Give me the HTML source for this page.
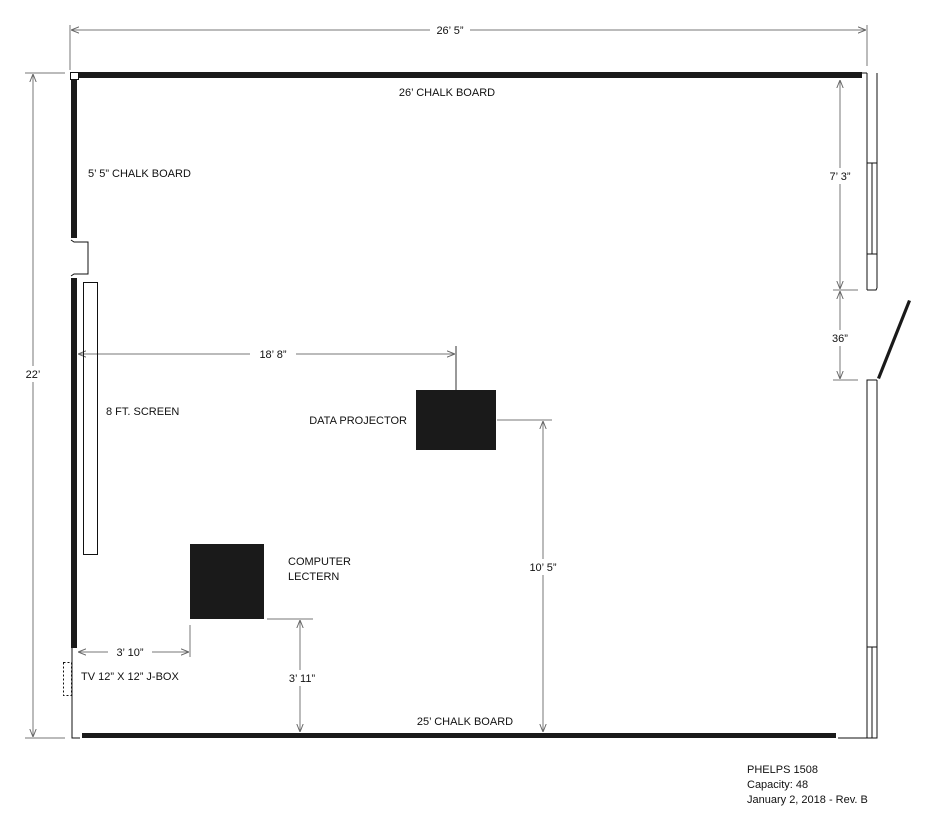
<!DOCTYPE html>
<html><head><meta charset="utf-8"><style>
html,body{margin:0;padding:0;background:#fff;}
svg{display:block;}
text{font-family:"Liberation Sans",sans-serif;font-size:11px;fill:#111;}
</style></head><body>
<svg width="933" height="816" viewBox="0 0 933 816" xmlns="http://www.w3.org/2000/svg">
<defs>
<marker id="a" viewBox="0 0 10 10" refX="10" refY="5" markerWidth="8" markerHeight="8" orient="auto-start-reverse" markerUnits="userSpaceOnUse"><path d="M0,1 L10,5 L0,9" fill="none" stroke="#666" stroke-width="1.2"/></marker>
</defs>
<g stroke="#777" stroke-width="1" fill="none">
<!-- top dim -->
<line x1="70" y1="25" x2="70" y2="70"/><line x1="867" y1="25" x2="867" y2="66"/>
<line x1="71" y1="30" x2="866" y2="30" marker-start="url(#a)" marker-end="url(#a)"/>
<!-- left dim -->
<line x1="25" y1="73" x2="65" y2="73"/><line x1="25" y1="738" x2="65" y2="738"/>
<line x1="33" y1="74" x2="33" y2="737" marker-start="url(#a)" marker-end="url(#a)"/>
<!-- 7'3 and 36 -->
<line x1="833" y1="290" x2="858" y2="290"/><line x1="833" y1="380" x2="858" y2="380"/>
<line x1="840" y1="80" x2="840" y2="289" marker-start="url(#a)" marker-end="url(#a)"/>
<line x1="840" y1="291" x2="840" y2="379" marker-start="url(#a)" marker-end="url(#a)"/>
<!-- 18'8 -->
<line x1="456" y1="346" x2="456" y2="390" stroke="#333"/>
<line x1="78" y1="354" x2="455" y2="354" marker-start="url(#a)" marker-end="url(#a)"/>
<!-- 10'5 -->
<line x1="497" y1="420" x2="552" y2="420"/>
<line x1="543" y1="421" x2="543" y2="732" marker-start="url(#a)" marker-end="url(#a)"/>
<!-- 3'10 -->
<line x1="190" y1="625" x2="190" y2="657"/>
<line x1="78" y1="652" x2="189" y2="652" marker-start="url(#a)" marker-end="url(#a)"/>
<!-- 3'11 -->
<line x1="267" y1="619" x2="313" y2="619"/>
<line x1="300" y1="620" x2="300" y2="732" marker-start="url(#a)" marker-end="url(#a)"/>
</g>
<!-- label backgrounds -->
<g fill="#fff">
<rect x="430" y="22" width="40" height="16"/>
<rect x="22" y="366" width="22" height="16"/>
<rect x="820" y="168" width="40" height="16"/>
<rect x="826" y="330" width="28" height="16"/>
<rect x="250" y="346" width="46" height="16"/>
<rect x="524" y="559" width="40" height="16"/>
<rect x="108" y="644" width="44" height="16"/>
<rect x="284" y="670" width="36" height="16"/>
</g>
<g fill="#1a1a1a">
<rect x="79" y="72" width="783" height="6"/>
<rect x="71" y="80" width="6" height="158"/>
<rect x="71" y="278" width="6" height="370"/>
<rect x="82" y="733" width="754" height="5"/>
<rect x="416" y="390" width="80" height="60"/>
<rect x="190" y="544" width="74" height="75"/>
<path d="M877 378 L908 300 L911 301 L880 379 Z"/>
</g>
<g stroke="#111" stroke-width="1" fill="none">
<rect x="70.5" y="72.5" width="8" height="7"/>
<polyline points="71,240 74,242 88,242 88,274 74,274 71,276"/>
<rect x="83.5" y="282.5" width="14" height="272"/>
<polyline points="72,648 72,738 80,738"/>
<rect x="63.5" y="662.5" width="8" height="33" stroke-dasharray="2,2"/>
<line x1="838" y1="738" x2="867" y2="738"/>
<line x1="862" y1="73" x2="867" y2="73"/>
<line x1="867" y1="73" x2="867" y2="290"/>
<line x1="877" y1="73" x2="877" y2="288"/>
<line x1="867" y1="163" x2="877" y2="163"/>
<line x1="867" y1="254" x2="877" y2="254"/>
<line x1="872" y1="163" x2="872" y2="254"/>
<polyline points="867,290 876,290 877,288"/>
<polyline points="877,380 867,380 867,738 877,738 877,380"/>
<line x1="867" y1="647" x2="877" y2="647"/>
<line x1="872" y1="647" x2="872" y2="738"/>
</g>
<g>
<text x="450" y="34" text-anchor="middle">26’ 5”</text>
<text x="33" y="378" text-anchor="middle">22’</text>
<text x="447" y="96" text-anchor="middle">26’ CHALK BOARD</text>
<text x="88" y="177">5’ 5” CHALK BOARD</text>
<text x="840" y="180" text-anchor="middle">7’ 3”</text>
<text x="840" y="342" text-anchor="middle">36”</text>
<text x="273" y="358" text-anchor="middle">18’ 8”</text>
<text x="106" y="415">8 FT. SCREEN</text>
<text x="407" y="424" text-anchor="end">DATA PROJECTOR</text>
<text x="288" y="565">COMPUTER</text>
<text x="288" y="580">LECTERN</text>
<text x="543" y="571" text-anchor="middle">10’ 5”</text>
<text x="130" y="656" text-anchor="middle">3’ 10”</text>
<text x="81" y="680">TV 12” X 12” J-BOX</text>
<text x="302" y="682" text-anchor="middle">3’ 11”</text>
<text x="465" y="725" text-anchor="middle">25’ CHALK BOARD</text>
<text x="747" y="773">PHELPS 1508</text>
<text x="747" y="788">Capacity: 48</text>
<text x="747" y="803">January 2, 2018 - Rev. B</text>
</g>
</svg>
</body></html>
